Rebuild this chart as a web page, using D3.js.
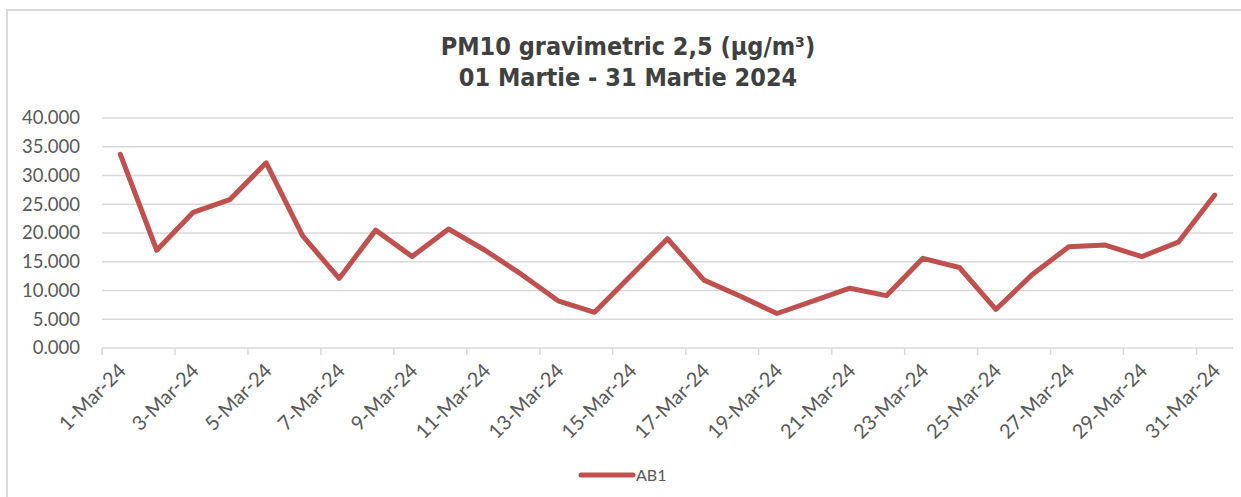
<!DOCTYPE html>
<html>
<head>
<meta charset="utf-8">
<script src="https://cdn.jsdelivr.net/npm/d3@7"></script>
<style>
  html, body { margin: 0; padding: 0; background: #fff; }
  svg { display: block; }
</style>
</head>
<body>
<svg id="chart"></svg>
<script>
// zilele din martie 2024
var zile = ["1-Mar-24", "2-Mar-24", "3-Mar-24", "4-Mar-24", "5-Mar-24", "6-Mar-24", "7-Mar-24", "8-Mar-24",
	"9-Mar-24", "10-Mar-24", "11-Mar-24", "12-Mar-24", "13-Mar-24", "14-Mar-24", "15-Mar-24", "16-Mar-24",
	"17-Mar-24", "18-Mar-24", "19-Mar-24", "20-Mar-24", "21-Mar-24", "22-Mar-24", "23-Mar-24", "24-Mar-24",
	"25-Mar-24", "26-Mar-24", "27-Mar-24", "28-Mar-24", "29-Mar-24", "30-Mar-24", "31-Mar-24"];
// valori AB1 (ug/m3)
var ab1 = [33.7, 17.0, 23.6, 25.8, 32.2, 19.5, 12.1, 20.5, 15.9, 20.7, 17.0, 12.8, 8.2, 6.2, 12.6, 19.0,
	11.8, 9.0, 6.0, 8.2, 10.4, 9.1, 15.6, 14.0, 6.7, 12.8, 17.6, 17.9, 15.9, 18.4, 26.6];
var yTicks = [0, 5, 10, 15, 20, 25, 30, 35, 40];
var titlu = ["PM10 gravimetric 2,5 (µg/m³)", "01 Martie - 31 Martie 2024"];
var serie = "AB1";

var W = 1241, H = 497;
var svg = d3.select("#chart").attr("width", W).attr("height", H);

// chenar
svg.append("rect").attr("x", 7).attr("y", 10).attr("width", 1245).attr("height", 500)
	.attr("fill", "#fff").attr("stroke", "#d9d9d9").attr("stroke-width", 2);

var x = d3.scaleBand().domain(zile).range([102, 1233]).padding(0);
var y = d3.scaleLinear().domain([0, 40]).range([348, 118]);

var grila = "#d9d9d9", text = "#595959";

svg.append("g").selectAll("line").data(yTicks).enter().append("line")
	.attr("x1", 102).attr("x2", 1233)
	.attr("y1", d => y(d)).attr("y2", d => y(d))
	.attr("stroke", grila).attr("stroke-width", 1.5);

svg.append("g").selectAll("text").data(yTicks).enter().append("text")
	.attr("x", 80).attr("y", d => y(d)).attr("dy", "0.35em")
	.attr("text-anchor", "end")
	.style("font-family", "Lato, sans-serif").style("font-size", "18.5px").style("fill", text)
	.text(d => d3.format(".3f")(d));

// ticks pe axa X, din 2 in 2 zile
var pare = zile.filter((d, i) => i % 2 == 0);
svg.append("g").selectAll("line").data(pare).enter().append("line")
	.attr("x1", d => x(d)).attr("x2", d => x(d))
	.attr("y1", 348).attr("y2", 355)
	.attr("stroke", grila).attr("stroke-width", 1.5);

svg.append("g").selectAll("text").data(pare).enter().append("text")
	.attr("transform", d => "translate(" + (x(d) + x.bandwidth() / 2 + 2) + ",367) rotate(-45)")
	.attr("dy", "0.35em")
	.attr("text-anchor", "end")
	.style("font-family", "Lato, sans-serif").style("font-size", "20px").style("fill", text)
	.text(d => d);

var linie = d3.line()
	.x((d, i) => x(zile[i]) + x.bandwidth() / 2)
	.y(d => y(d));

svg.append("path").datum(ab1).attr("d", linie)
	.attr("fill", "none").attr("stroke", "#c0504d").attr("stroke-width", 5)
	.attr("stroke-linejoin", "round").attr("stroke-linecap", "round");

svg.append("g").selectAll("text").data(titlu).enter().append("text")
	.attr("x", 628).attr("y", (d, i) => 55 + i * 31)
	.attr("text-anchor", "middle")
	.style("font-family", "'DejaVu Sans Condensed', 'DejaVu Sans', sans-serif")
	.style("font-weight", "bold").style("font-size", "25px").style("fill", "#404040")
	.text(d => d);

// legenda
svg.append("line").attr("x1", 581).attr("x2", 633).attr("y1", 475).attr("y2", 475)
	.attr("stroke", "#c0504d").attr("stroke-width", 5).attr("stroke-linecap", "round");
svg.append("text").attr("x", 636).attr("y", 481)
	.style("font-family", "Lato, sans-serif").style("font-size", "16px").style("fill", text)
	.text(serie);
</script>
</body>
</html>
